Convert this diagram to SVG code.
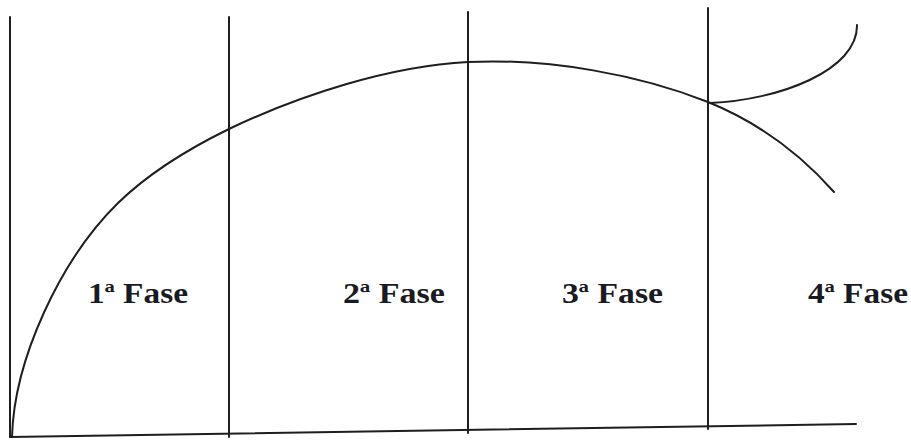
<svg xmlns="http://www.w3.org/2000/svg" width="911" height="440" viewBox="0 0 911 440">
<style>
.ln{fill:none;stroke:#1e1e1e;stroke-width:2;stroke-linecap:round}
.lbl{font-family:"Liberation Serif","Times New Roman",serif;font-weight:bold;font-size:29px;fill:#1a1a22}
</style>
<rect width="911" height="440" fill="#ffffff"/>
<g id="axes">
<line class="ln" x1="10" y1="17" x2="10" y2="437"/>
<line class="ln" x1="10" y1="437" x2="856" y2="424"/>
</g>
<g id="dividers">
<line class="ln" x1="229" y1="17" x2="229" y2="437"/>
<line class="ln" x1="468" y1="12" x2="468" y2="433"/>
<line class="ln" x1="708" y1="8" x2="708" y2="429"/>
</g>
<g id="curves">
<path class="ln" d="M12,437 C14,360 60,260 118,203 C150,172 190,148 229,129 C300,95 390,66 468,62 C550,58 640,75 708,102 C750,119 795,148 834,192"/>
<path class="ln" d="M710,103 C780,100 858,70 857,25"/>
</g>
<g id="phase1"><text class="lbl" x="88" y="303" textLength="100" lengthAdjust="spacingAndGlyphs">1ª Fase</text></g>
<g id="phase2"><text class="lbl" x="343" y="303" textLength="102" lengthAdjust="spacingAndGlyphs">2ª Fase</text></g>
<g id="phase3"><text class="lbl" x="562" y="303" textLength="101" lengthAdjust="spacingAndGlyphs">3ª Fase</text></g>
<g id="phase4"><text class="lbl" x="808" y="303" textLength="100" lengthAdjust="spacingAndGlyphs">4ª Fase</text></g>
</svg>
